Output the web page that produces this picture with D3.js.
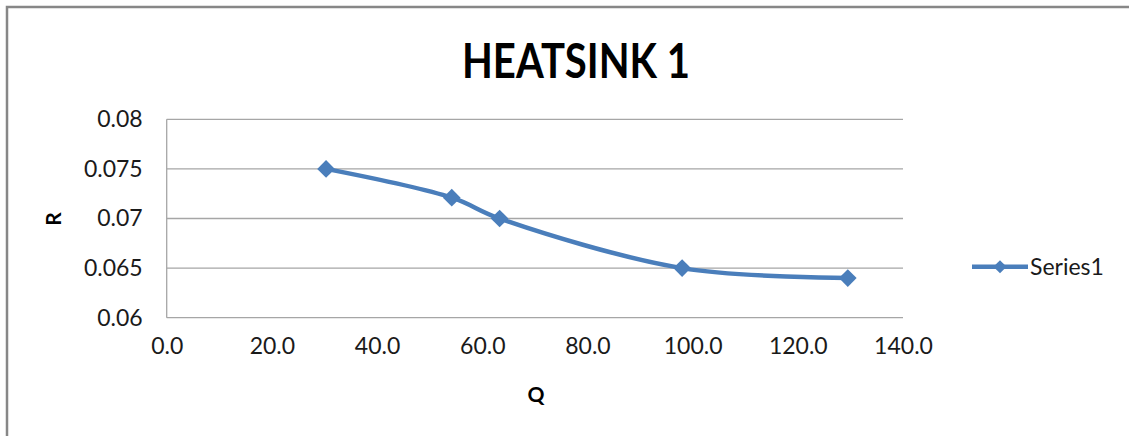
<!DOCTYPE html>
<html>
<head>
<meta charset="utf-8">
<script src="https://cdn.jsdelivr.net/npm/d3@7"></script>
<style>
  html, body { margin: 0; padding: 0; background: #fff; }
  svg { display: block; }
  text { font-family: Lato, "Open Sans", sans-serif; fill: #1a1a1a; }
</style>
</head>
<body>
<svg id="chart" width="1129" height="436"></svg>
<script>
const title = "HEATSINK 1";
const seriesName = "Series1";
const xLabel = "Q";
const yLabel = "R";
const qValues = [30.3, 54.2, 63.3, 98.0, 129.5];
const rValues = [0.075, 0.0721, 0.070, 0.065, 0.064];
const xTicks = [0, 20, 40, 60, 80, 100, 120, 140];
const yTicks = [0.06, 0.065, 0.07, 0.075, 0.08];

const svg = d3.select("#chart");
const W = 1129, H = 436;
const plot = { left: 166.7, right: 903, top: 119.3, bottom: 317.7 };
const blue = "#4a7ebb";

// frame (left + top)
svg.append("path")
  .attr("d", `M7,${H} L7,7 L${W},7`)
  .attr("fill", "none").attr("stroke", "#878787").attr("stroke-width", 2.5);

const x = d3.scaleLinear().domain([0, 140]).range([plot.left, plot.right]);
const y = d3.scaleLinear().domain([0.06, 0.08]).range([plot.bottom, plot.top]);

// gridlines
svg.append("g").selectAll("line").data(yTicks).join("line")
  .attr("x1", plot.left).attr("x2", plot.right)
  .attr("y1", d => y(d)).attr("y2", d => y(d))
  .attr("stroke", "#a6a6a6").attr("stroke-width", 1.3);

// y axis line
svg.append("line")
  .attr("x1", plot.left).attr("x2", plot.left)
  .attr("y1", plot.top).attr("y2", plot.bottom)
  .attr("stroke", "#a6a6a6").attr("stroke-width", 1.3);

// axes via d3
const yAxis = d3.axisLeft(y).tickValues(yTicks).tickSize(0).tickPadding(24)
  .tickFormat(d => String(+d.toFixed(3)));
const gy = svg.append("g").attr("transform", `translate(${plot.left},0)`).call(yAxis);
gy.select(".domain").remove();
gy.selectAll("text").attr("font-size", 23).attr("font-family", "Lato, sans-serif").attr("fill", "#1a1a1a");

const xAxis = d3.axisBottom(x).tickValues(xTicks).tickSize(0).tickPadding(20)
  .tickFormat(d3.format(".1f"));
const gx = svg.append("g").attr("transform", `translate(0,${plot.bottom})`).call(xAxis);
gx.select(".domain").remove();
gx.selectAll("text").attr("font-size", 23).attr("font-family", "Lato, sans-serif").attr("fill", "#1a1a1a");

// title
svg.append("text")
  .attr("x", 576).attr("y", 78)
  .attr("text-anchor", "middle")
  .attr("font-size", 47).attr("font-weight", "bold")
  .attr("textLength", 228).attr("lengthAdjust", "spacingAndGlyphs")
  .style("fill", "#000")
  .text(title);

// axis titles
svg.append("text")
  .attr("x", 536).attr("y", 402)
  .attr("text-anchor", "middle")
  .attr("font-size", 21).attr("font-weight", "bold")
  .style("fill", "#000")
  .text(xLabel);
svg.append("text")
  .attr("transform", "translate(61,219) rotate(-90)")
  .attr("text-anchor", "middle")
  .attr("font-size", 21).attr("font-weight", "bold")
  .style("fill", "#000")
  .text(yLabel);

// data
const data = qValues.map((q, i) => ({ q, r: rValues[i] }));
const line = d3.line().x(d => x(d.q)).y(d => y(d.r)).curve(d3.curveCatmullRom.alpha(0.5));
svg.append("path").datum(data)
  .attr("d", line)
  .attr("fill", "none").attr("stroke", blue).attr("stroke-width", 4.5)
  .attr("stroke-linejoin", "round");

const diamond = d3.symbol().type(d3.symbolDiamond2).size(200);
svg.append("g").selectAll("path").data(data).join("path")
  .attr("transform", d => `translate(${x(d.q)},${y(d.r)})`)
  .attr("d", diamond)
  .attr("fill", blue);

// legend
const lg = svg.append("g").attr("transform", "translate(972,266.7)");
lg.append("line").attr("x1", 0).attr("x2", 56).attr("y1", 0).attr("y2", 0)
  .attr("stroke", blue).attr("stroke-width", 4.5);
lg.append("path").attr("transform", "translate(28,0)")
  .attr("d", d3.symbol().type(d3.symbolDiamond2).size(110)).attr("fill", blue);
lg.append("text").attr("x", 58).attr("y", 8)
  .attr("font-size", 23).style("fill", "#1a1a1a")
  .text(seriesName);
</script>
</body>
</html>
